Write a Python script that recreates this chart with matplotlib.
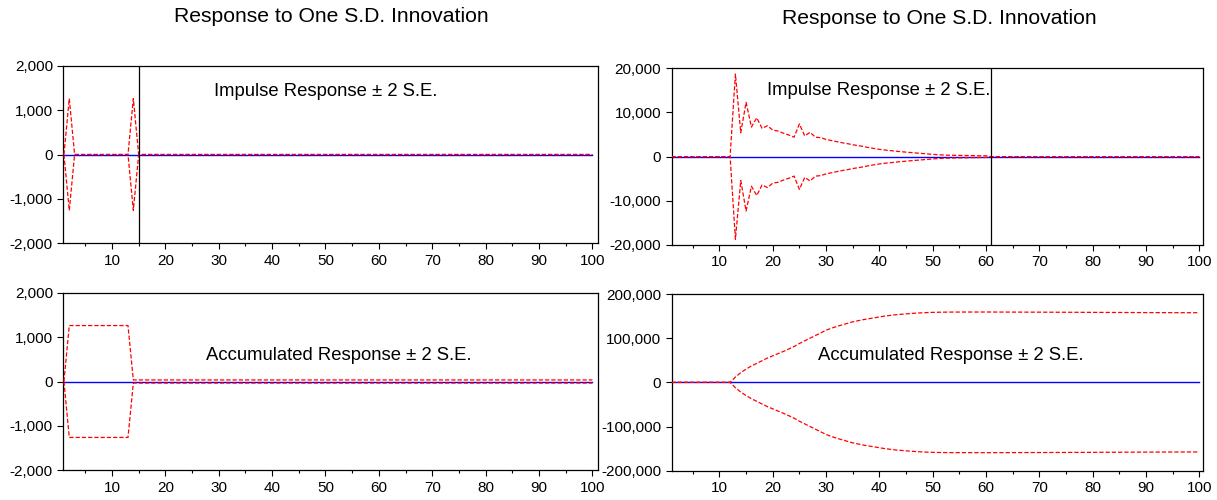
import numpy as np
import matplotlib
matplotlib.use("Agg")
import matplotlib.pyplot as plt
from matplotlib.ticker import FuncFormatter, MultipleLocator

plt.rcParams['font.family'] = ['Liberation Sans', 'DejaVu Sans']

# Forecast horizon (periods 1..100)
periods = np.arange(1, 101)

# Point responses (all flat at zero)
resp_left_impulse = [0.0] * 100
resp_left_accum = [0.0] * 100
resp_right_impulse = [0.0] * 100
resp_right_accum = [0.0] * 100

# Two standard-error half-widths, left shock
se2_left_impulse = ([0, 1260] + [0] * 11 + [1260] + [0] * 86)
se2_left_accum = ([0] + [1260] * 12 + [35] * 87)

# Two standard-error half-widths, right shock (impulse)
se2_right_impulse = (
    [0] * 12 +
    [18700, 5400, 12300, 6700, 8800, 6400, 7000, 6000, 5800, 5300,
     4900, 4400, 7400, 4700, 5500, 4400, 4300, 3900, 3650, 3400,
     3150, 2950, 2700, 2500, 2300, 2050, 1850, 1650, 1500, 1380,
     1250, 1130, 1020, 920, 820, 720, 620, 520, 430, 370,
     330, 300, 280, 260, 240, 220, 200, 190] +
    [0] * 40
)

# Two standard-error half-widths, right shock (accumulated)
se2_right_accum = (
    [0] * 12 +
    [12000, 22000, 30000, 37000, 43000, 49000, 55000, 60000, 65000, 70000,
     75500, 81000, 88000, 94000, 100000, 106000, 112000, 118000, 122500, 126500,
     130000, 133500, 137000, 139500, 142000, 144000, 146000, 148000, 150000, 151500,
     153000, 154000, 155000, 156000, 156800, 157400, 158000, 158400, 158700, 158900,
     159000, 159100, 159100, 159200, 159200, 159200, 159200, 159200] +
    [159200, 159100, 159100, 159100, 159000, 159000, 159000, 158900, 158900, 158900,
     158800, 158800, 158700, 158700, 158700, 158600, 158600, 158500, 158500, 158400,
     158400, 158300, 158300, 158200, 158200, 158100, 158100, 158000, 158000, 157900,
     157900, 157800, 157800, 157800, 157700, 157700, 157700, 157600, 157600, 157600]
)

titles = ["Response to One S.D. Innovation", "Response to One S.D. Innovation"]
panel_labels = ["Impulse Response \u00b1 2 S.E.", "Accumulated Response \u00b1 2 S.E."]
x_ticks = [10, 20, 30, 40, 50, 60, 70, 80, 90, 100]

W, H = 1217, 500
fig = plt.figure(figsize=(W / 100, H / 100), dpi=100)


def add_px_axes(x0, x1, ytop, ybot):
    return fig.add_axes([x0 / W, 1 - ybot / H, (x1 - x0) / W, (ybot - ytop) / H])


comma_fmt = FuncFormatter(lambda v, p: f"{int(round(v)):,}")


def draw_panel(ax, resp, se2, xlim, ylim, ystep, vline=None):
    resp = np.asarray(resp, dtype=float)
    se2 = np.asarray(se2, dtype=float)
    ax.plot(periods, resp, color='#0000ff', lw=1.0, zorder=2)
    dash = (0, (3.4, 1.6))
    ax.plot(periods, resp + se2, color='#ff0000', lw=0.9, ls=dash, zorder=3)
    ax.plot(periods, resp - se2, color='#ff0000', lw=0.9, ls=dash, zorder=3)
    if vline is not None:
        ax.axvline(vline, color='black', lw=0.9, zorder=4)
    ax.set_xlim(*xlim)
    ax.set_ylim(*ylim)
    ax.set_xticks(x_ticks)
    ax.xaxis.set_minor_locator(MultipleLocator(5))
    ax.yaxis.set_major_locator(MultipleLocator(ystep))
    ax.yaxis.set_major_formatter(comma_fmt)
    ax.tick_params(axis='x', which='major', direction='out', length=4.5, width=0.8,
                   pad=3.0, labelsize=11.0, bottom=True, top=False)
    ax.tick_params(axis='x', which='minor', direction='out', length=2.5, width=0.8,
                   bottom=True, top=False)
    ax.tick_params(axis='y', which='major', direction='out', length=4.5, width=0.8,
                   pad=3.0, labelsize=11.0, left=True, right=False)
    for s in ax.spines.values():
        s.set_linewidth(0.9)
        s.set_color('black')


ax_lt = add_px_axes(63.3, 597.7, 65.7, 243.3)
ax_lb = add_px_axes(63.3, 597.7, 292.7, 470.3)
ax_rt = add_px_axes(671.7, 1203.3, 68.3, 245.0)
ax_rb = add_px_axes(671.7, 1203.3, 294.0, 470.7)

draw_panel(ax_lt, resp_left_impulse, se2_left_impulse, (0.88, 101.0), (-2000, 2000), 1000, vline=15)
draw_panel(ax_lb, resp_left_accum, se2_left_accum, (0.88, 101.0), (-2000, 2000), 1000)
draw_panel(ax_rt, resp_right_impulse, se2_right_impulse, (1.05, 100.75), (-20000, 20000), 10000, vline=61)
draw_panel(ax_rb, resp_right_accum, se2_right_accum, (1.05, 100.75), (-200000, 200000), 100000)

# Column titles
fig.text(331 / W, 1 - 17 / H, titles[0], ha='center', va='center', fontsize=15.2)
fig.text(939 / W, 1 - 19 / H, titles[1], ha='center', va='center', fontsize=15.2)

# Panel captions
fig.text(326 / W, 1 - 92 / H, panel_labels[0], ha='center', va='center', fontsize=13.3)
fig.text(879 / W, 1 - 91 / H, panel_labels[0], ha='center', va='center', fontsize=13.3)
fig.text(339 / W, 1 - 356 / H, panel_labels[1], ha='center', va='center', fontsize=13.3)
fig.text(951 / W, 1 - 355 / H, panel_labels[1], ha='center', va='center', fontsize=13.3)

fig.savefig("out.png", dpi=100, facecolor='white')
